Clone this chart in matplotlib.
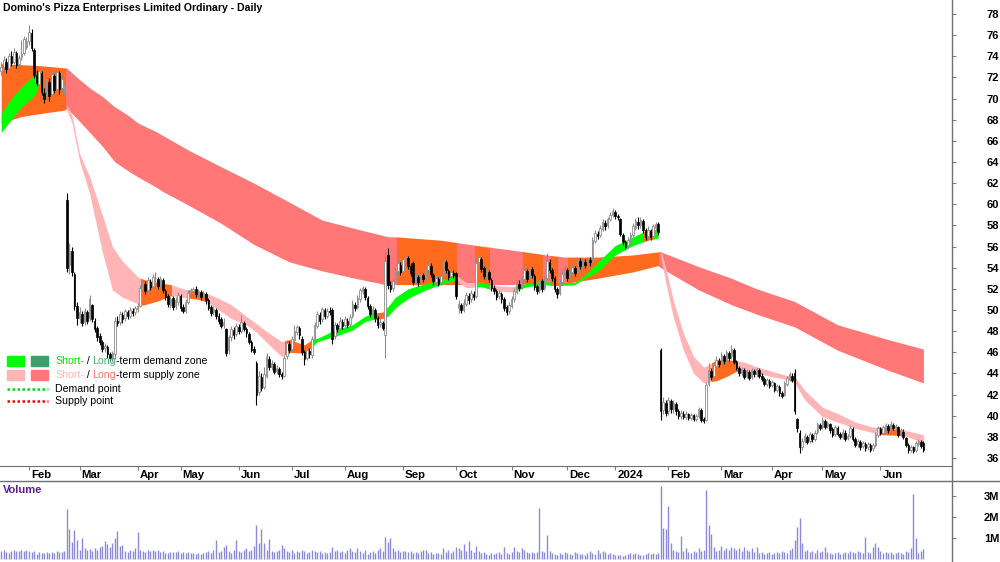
import numpy as np
import pandas as pd
import matplotlib
matplotlib.use("Agg")
import matplotlib.pyplot as plt
from matplotlib.patches import Rectangle
from matplotlib.lines import Line2D
from matplotlib.transforms import ScaledTranslation, IdentityTransform

# ---- trading calendar (ASX days) ----
holidays = ["2023-01-26", "2023-04-07", "2023-04-10", "2023-04-25", "2023-06-12",
            "2023-12-25", "2023-12-26", "2024-01-01", "2024-01-26", "2024-03-29",
            "2024-04-01", "2024-04-25", "2024-06-10"]
dates = pd.bdate_range("2023-01-16", "2024-07-05")
dates = dates[~dates.isin(pd.to_datetime(holidays))]

# ---- daily prices ----
opens = [72.6, 73.0, 73.5, 72.9, 74.0, 73.5, 74.3, 73.3, 73.9, 74.3,
         74.9, 75.4, 76.2, 74.6, 72.2, 71.4, 72.4, 70.5, 70.1, 71.6,
         70.4, 72.1, 70.9, 72.4, 71.0, 70.6, 60.4, 54.3, 55.6, 53.4,
         50.4, 49.2, 49.6, 48.9, 49.8, 49.2, 50.5, 49.0, 48.3, 47.5,
         47.0, 46.4, 46.5, 45.8, 45.5, 45.8, 49.0, 48.9, 49.5, 49.2,
         49.8, 49.4, 49.9, 49.8, 50.1, 50.4, 52.0, 52.5, 51.9, 52.6,
         52.3, 53.0, 52.9, 52.4, 52.8, 51.8, 51.3, 50.5, 51.1, 50.4,
         50.8, 51.3, 50.3, 49.9, 50.8, 51.6, 51.8, 52.0, 51.5, 51.7,
         51.3, 51.5, 50.9, 50.3, 49.8, 50.0, 49.4, 49.1, 48.6, 48.2,
         46.2, 47.4, 48.1, 47.7, 48.4, 48.0, 48.8, 48.2, 47.7, 47.0,
         46.3, 45.0, 42.2, 43.7, 42.7, 43.8, 45.4, 44.6, 44.9, 44.2,
         44.4, 43.9, 43.8, 45.6, 46.8, 46.3, 47.2, 47.9, 48.3, 47.3,
         46.0, 45.5, 46.1, 45.7, 47.3, 48.5, 49.5, 49.1, 50.0, 49.4,
         49.9, 50.0, 47.5, 48.6, 48.3, 48.9, 48.6, 49.0, 48.7, 49.4,
         50.5, 50.3, 51.0, 51.8, 52.0, 51.1, 50.4, 49.7, 50.0, 49.2,
         48.7, 48.8, 47.6, 55.2, 52.4, 52.1, 52.8, 53.7, 54.3, 53.7,
         54.7, 54.9, 54.2, 54.4, 52.7, 53.1, 52.7, 53.3, 53.0, 53.8,
         54.2, 53.3, 52.6, 52.9, 52.6, 53.3, 54.5, 53.7, 53.2, 53.5,
         53.5, 50.2, 50.5, 50.0, 50.6, 51.3, 51.0, 51.5, 51.3, 54.5,
         54.8, 54.0, 53.3, 53.6, 52.8, 52.1, 51.8, 51.3, 51.5, 51.0,
         50.3, 49.9, 50.4, 51.0, 51.7, 52.5, 52.2, 52.9, 53.7, 53.0,
         53.9, 53.2, 52.3, 51.9, 52.7, 52.1, 53.0, 54.5, 53.8, 53.0,
         52.0, 51.6, 52.6, 53.3, 53.8, 53.1, 53.6, 54.0, 53.6, 54.6,
         54.2, 54.5, 54.4, 54.7, 54.8, 56.5, 57.2, 57.1, 57.7, 58.2,
         58.0, 58.6, 59.0, 59.3, 58.9, 58.6, 57.1, 56.4, 56.1, 56.5,
         57.1, 57.8, 58.3, 58.0, 58.4, 57.6, 57.0, 57.5, 57.0, 57.8,
         58.1, 46.2, 40.5, 41.2, 40.4, 41.4, 40.6, 41.1, 40.4, 40.0,
         40.2, 39.9, 40.2, 39.8, 40.1, 39.7, 40.0, 40.5, 39.7, 39.6,
         43.0, 44.2, 43.8, 44.7, 45.2, 45.0, 45.6, 45.3, 45.9, 45.6,
         46.2, 45.1, 44.5, 44.0, 44.3, 43.8, 44.1, 43.7, 44.2, 43.9,
         44.3, 43.8, 43.5, 43.0, 43.3, 42.9, 43.1, 42.4, 42.7, 42.1,
         42.0, 43.0, 43.5, 43.8, 44.0, 39.7, 38.4, 37.0, 37.6, 38.0,
         37.6, 38.2, 37.8, 38.5, 39.1, 38.9, 39.5, 39.0, 39.2, 38.7,
         38.3, 38.8, 38.3, 38.0, 38.4, 37.9, 38.1, 38.7, 37.8, 37.3,
         37.5, 37.1, 37.3, 37.0, 37.2, 36.9, 37.2, 38.2, 38.7, 38.4,
         38.8, 39.0, 38.7, 39.1, 38.8, 38.9, 38.3, 38.5, 37.9, 37.2,
         36.8, 37.0, 36.8, 37.3, 37.5, 37.4]
highs = [73.5, 74.0, 73.8, 74.3, 74.5, 74.8, 74.5, 74.1, 75.5, 75.9,
         75.8, 77.0, 76.6, 74.8, 72.7, 72.9, 72.6, 71.0, 72.1, 71.9,
         72.6, 72.3, 72.9, 72.6, 72.1, 71.5, 61.1, 56.3, 56.0, 53.6,
         50.8, 50.3, 49.9, 50.2, 50.0, 51.4, 50.6, 49.2, 48.5, 47.8,
         47.2, 46.9, 46.7, 46.0, 46.1, 49.3, 49.4, 49.9, 49.8, 50.1,
         50.0, 50.3, 50.2, 50.4, 50.7, 52.4, 52.9, 52.7, 53.1, 52.9,
         53.4, 53.6, 53.1, 53.2, 53.0, 52.0, 51.5, 51.3, 51.3, 51.2,
         51.7, 51.5, 50.6, 51.0, 51.9, 52.1, 52.2, 52.3, 52.0, 51.9,
         51.8, 51.7, 51.1, 50.5, 50.4, 50.2, 49.7, 49.3, 49.2, 48.3,
         47.6, 48.5, 48.4, 48.8, 48.7, 49.5, 49.0, 48.4, 47.9, 47.2,
         46.6, 45.2, 44.2, 44.0, 44.6, 45.9, 45.6, 45.3, 45.1, 44.8,
         44.6, 44.1, 45.7, 47.2, 47.1, 47.5, 48.6, 48.6, 48.5, 47.5,
         46.2, 46.5, 46.4, 47.5, 48.9, 49.9, 49.8, 50.3, 50.2, 50.2,
         50.3, 50.2, 48.9, 48.8, 49.3, 49.1, 49.4, 49.2, 49.6, 50.9,
         50.8, 51.4, 52.1, 52.3, 52.2, 51.3, 50.6, 50.4, 50.2, 49.4,
         49.2, 49.0, 55.5, 55.9, 52.7, 52.9, 54.0, 54.7, 54.5, 55.0,
         55.4, 55.1, 54.4, 54.6, 53.5, 53.3, 53.7, 53.5, 54.1, 54.6,
         54.4, 53.5, 53.3, 53.1, 53.5, 55.0, 54.7, 53.9, 53.9, 53.8,
         53.6, 50.9, 50.7, 51.0, 51.7, 51.6, 51.9, 51.8, 54.8, 55.4,
         55.0, 54.2, 54.1, 53.8, 53.0, 52.4, 52.0, 51.9, 51.7, 51.2,
         50.5, 50.8, 51.3, 52.1, 52.9, 52.8, 53.2, 54.2, 53.9, 54.3,
         54.1, 53.4, 52.5, 53.0, 52.9, 53.3, 55.4, 54.8, 54.0, 53.2,
         52.2, 52.9, 53.7, 54.2, 54.0, 54.0, 54.4, 54.2, 55.0, 54.9,
         54.9, 54.8, 55.0, 55.0, 56.9, 57.6, 57.5, 58.0, 58.6, 58.5,
         58.8, 59.3, 59.6, 59.5, 59.1, 58.7, 57.3, 56.6, 56.9, 57.4,
         58.2, 58.7, 58.8, 58.8, 58.6, 57.8, 57.9, 57.7, 58.1, 58.3,
         58.3, 46.4, 41.8, 41.5, 41.8, 41.6, 41.5, 41.3, 40.6, 40.5,
         40.4, 40.4, 40.3, 40.3, 40.2, 40.2, 40.8, 40.7, 39.9, 43.2,
         45.0, 44.5, 45.0, 45.6, 45.5, 46.0, 45.8, 46.2, 46.1, 46.7,
         46.4, 45.3, 44.7, 44.6, 44.5, 44.4, 44.3, 44.5, 44.4, 44.6,
         44.5, 44.0, 43.7, 43.6, 43.5, 43.4, 43.2, 43.0, 42.9, 42.3,
         43.3, 43.8, 44.1, 44.0, 44.4, 39.8, 38.6, 37.9, 38.4, 38.2,
         38.5, 38.4, 38.6, 39.4, 39.3, 39.9, 39.7, 39.5, 39.3, 38.9,
         39.1, 39.0, 38.5, 38.7, 38.6, 38.3, 39.1, 38.9, 38.0, 37.8,
         37.7, 37.6, 37.5, 37.5, 37.4, 37.4, 38.5, 39.0, 38.9, 39.1,
         39.3, 39.2, 39.5, 39.3, 39.2, 39.0, 38.8, 38.7, 38.0, 37.4,
         37.2, 37.1, 37.6, 37.8, 37.7, 37.6]
lows = [72.2, 72.8, 72.4, 72.7, 73.1, 73.3, 72.9, 73.0, 73.6, 74.1,
        74.7, 75.1, 74.5, 71.9, 71.2, 71.2, 70.3, 69.6, 69.9, 69.8,
        70.2, 70.5, 70.7, 70.4, 70.6, 70.3, 53.6, 53.4, 53.2, 50.0,
        48.6, 48.8, 48.5, 48.6, 48.7, 49.0, 48.9, 47.9, 47.1, 46.7,
        46.0, 46.0, 45.5, 45.2, 45.1, 45.4, 48.5, 48.6, 48.8, 49.0,
        49.1, 49.2, 49.4, 49.5, 49.8, 50.3, 51.7, 51.5, 51.7, 51.9,
        52.0, 52.6, 52.0, 52.1, 51.6, 50.9, 50.3, 50.2, 50.0, 50.1,
        50.5, 49.9, 49.7, 49.7, 50.6, 51.3, 51.5, 51.2, 51.2, 50.9,
        51.0, 50.6, 50.0, 49.4, 49.5, 49.1, 48.7, 48.3, 48.3, 45.6,
        45.8, 47.1, 47.3, 47.5, 47.7, 47.8, 48.0, 47.4, 46.8, 46.0,
        45.8, 41.0, 42.0, 42.3, 42.5, 43.6, 44.3, 44.3, 43.9, 43.9,
        43.7, 43.5, 43.7, 45.4, 45.9, 46.1, 47.0, 47.6, 47.3, 45.7,
        44.8, 45.3, 45.5, 45.5, 47.1, 48.3, 48.7, 48.9, 49.1, 49.2,
        49.5, 46.8, 47.3, 47.9, 48.1, 48.2, 48.4, 48.3, 48.5, 49.2,
        49.9, 50.1, 50.8, 51.5, 50.9, 50.1, 49.3, 49.4, 48.9, 48.3,
        48.4, 48.1, 45.5, 52.0, 51.7, 51.8, 52.6, 53.4, 53.3, 53.5,
        54.4, 53.9, 53.2, 52.4, 52.5, 52.3, 52.5, 52.6, 52.8, 53.6,
        53.1, 52.4, 52.4, 52.3, 52.4, 53.1, 53.5, 52.8, 52.9, 53.0,
        51.0, 49.7, 49.7, 49.8, 50.4, 50.6, 50.8, 50.9, 51.1, 54.2,
        53.6, 52.9, 53.0, 52.6, 51.8, 51.5, 50.9, 51.0, 50.7, 49.9,
        49.5, 49.6, 50.2, 50.8, 51.5, 51.8, 52.0, 52.7, 52.6, 52.8,
        53.0, 51.9, 51.5, 51.6, 51.7, 51.9, 52.8, 53.5, 52.7, 51.7,
        51.1, 51.4, 52.4, 53.1, 52.7, 52.9, 53.4, 53.2, 53.4, 53.9,
        54.0, 54.0, 54.1, 54.2, 54.6, 56.3, 56.7, 56.9, 57.5, 57.6,
        57.8, 58.4, 58.8, 58.6, 58.5, 57.0, 56.1, 55.8, 55.9, 56.3,
        56.9, 57.6, 57.7, 57.8, 57.3, 56.6, 56.8, 56.6, 56.8, 57.5,
        57.1, 39.6, 40.2, 40.0, 40.1, 40.3, 40.3, 40.1, 39.7, 39.7,
        39.7, 39.7, 39.6, 39.6, 39.5, 39.5, 39.8, 39.4, 39.3, 39.5,
        42.8, 43.4, 43.6, 44.5, 44.6, 44.8, 44.9, 45.1, 45.2, 45.4,
        44.9, 44.3, 43.8, 43.8, 43.5, 43.6, 43.4, 43.5, 43.7, 43.7,
        43.6, 43.3, 42.8, 42.8, 42.6, 42.7, 42.2, 42.2, 41.9, 41.7,
        41.9, 42.8, 43.3, 43.2, 40.2, 38.5, 36.5, 36.8, 37.4, 37.3,
        37.4, 37.5, 37.6, 38.3, 38.6, 38.7, 38.7, 38.8, 38.4, 38.0,
        38.1, 38.1, 37.8, 37.8, 37.6, 37.7, 37.9, 37.6, 37.0, 37.0,
        36.8, 36.9, 36.7, 36.8, 36.6, 36.7, 37.0, 38.0, 38.2, 38.2,
        38.6, 38.4, 38.5, 38.6, 38.6, 38.0, 38.1, 37.8, 37.0, 36.5,
        36.6, 36.5, 36.6, 37.1, 36.9, 36.6]
closes = [73.0, 73.6, 72.8, 74.0, 73.4, 74.4, 73.2, 73.8, 74.2, 75.6,
          75.4, 76.3, 74.8, 72.2, 71.5, 72.6, 70.6, 70.0, 71.8, 70.2,
          72.3, 70.8, 72.5, 70.9, 71.8, 71.2, 54.0, 55.6, 53.6, 50.4,
          49.2, 49.8, 48.8, 49.9, 49.0, 51.0, 49.1, 48.2, 47.4, 47.0,
          46.3, 46.6, 45.8, 45.5, 45.9, 49.0, 48.8, 49.6, 49.1, 49.9,
          49.4, 50.0, 49.7, 50.2, 50.4, 52.1, 52.6, 51.8, 52.8, 52.2,
          53.1, 53.0, 52.3, 52.9, 51.9, 51.2, 50.6, 51.0, 50.3, 50.9,
          51.4, 50.2, 49.9, 50.8, 51.6, 51.9, 52.0, 51.5, 51.8, 51.2,
          51.6, 50.9, 50.2, 49.7, 50.1, 49.4, 49.0, 48.5, 48.9, 45.9,
          47.4, 48.2, 47.6, 48.5, 48.0, 48.9, 48.2, 47.8, 47.0, 46.2,
          46.0, 42.0, 43.8, 42.6, 43.9, 45.6, 44.6, 45.0, 44.1, 44.5,
          43.9, 43.8, 45.5, 46.9, 46.2, 47.3, 48.0, 48.4, 47.6, 46.0,
          45.4, 46.2, 45.8, 47.3, 48.6, 49.6, 49.0, 50.1, 49.4, 49.9,
          49.8, 47.3, 48.6, 48.2, 49.0, 48.5, 49.1, 48.6, 49.3, 50.6,
          50.2, 51.1, 51.9, 52.1, 51.2, 50.4, 49.6, 50.1, 49.2, 48.6,
          48.9, 48.3, 54.6, 52.4, 52.0, 52.7, 53.8, 54.4, 53.6, 54.8,
          55.0, 54.2, 53.5, 52.6, 53.2, 52.6, 53.4, 52.9, 53.9, 54.3,
          53.4, 52.7, 53.0, 52.5, 53.2, 54.6, 53.8, 53.1, 53.6, 53.3,
          51.3, 50.6, 50.0, 50.7, 51.4, 50.9, 51.6, 51.2, 54.4, 55.0,
          53.9, 53.2, 53.8, 52.9, 52.1, 51.8, 51.2, 51.6, 51.0, 50.2,
          49.8, 50.5, 51.0, 51.8, 52.6, 52.1, 53.0, 53.8, 52.9, 54.0,
          53.3, 52.2, 51.8, 52.8, 52.0, 53.0, 54.6, 53.8, 53.0, 52.0,
          51.5, 52.6, 53.4, 53.9, 53.0, 53.7, 54.1, 53.5, 54.7, 54.2,
          54.6, 54.3, 54.8, 54.5, 56.6, 57.3, 57.0, 57.8, 58.3, 57.9,
          58.6, 59.0, 59.4, 58.9, 58.8, 57.2, 56.4, 56.0, 56.6, 57.1,
          57.9, 58.4, 58.0, 58.5, 57.6, 56.9, 57.6, 56.9, 57.9, 58.1,
          57.4, 40.4, 41.3, 40.3, 41.5, 40.6, 41.2, 40.4, 40.0, 40.3,
          39.9, 40.2, 39.8, 40.1, 39.7, 40.0, 40.6, 39.6, 39.5, 42.9,
          44.3, 43.7, 44.8, 45.3, 44.9, 45.7, 45.2, 46.0, 45.5, 46.3,
          45.1, 44.5, 44.0, 44.4, 43.7, 44.2, 43.6, 44.3, 43.9, 44.4,
          43.8, 43.5, 43.0, 43.4, 42.8, 43.2, 42.4, 42.8, 42.1, 41.9,
          43.1, 43.6, 43.9, 43.4, 40.4, 38.8, 37.0, 37.6, 38.1, 37.5,
          38.3, 37.8, 38.4, 39.2, 38.8, 39.6, 38.9, 39.3, 38.6, 38.2,
          38.9, 38.3, 38.0, 38.5, 37.8, 38.1, 38.8, 37.8, 37.2, 37.6,
          37.0, 37.4, 36.9, 37.3, 36.8, 37.2, 38.3, 38.8, 38.4, 38.9,
          39.1, 38.6, 39.2, 38.8, 39.0, 38.2, 38.6, 38.0, 37.2, 36.8,
          37.0, 36.7, 37.4, 37.6, 37.1, 36.8]

# daily volume, millions
volume = [0.38, 0.42, 0.35, 0.30, 0.40, 0.42, 0.38, 0.40, 0.41, 0.39,
          0.42, 0.40, 0.33, 0.38, 0.25, 0.35, 0.30, 0.28, 0.35, 0.30,
          0.33, 0.30, 0.38, 0.32, 0.34, 0.40, 2.38, 1.43, 0.82, 1.40,
          0.90, 0.45, 1.00, 0.50, 0.45, 0.48, 0.40, 0.50, 0.42, 0.55,
          0.60, 0.86, 0.70, 0.55, 0.75, 0.98, 1.33, 0.60, 0.65, 0.40,
          0.35, 0.45, 0.40, 0.50, 1.30, 0.45, 0.40, 0.35, 0.45, 0.40,
          0.42, 0.38, 0.45, 0.35, 0.40, 0.30, 0.28, 0.32, 0.35, 0.33,
          0.38, 0.30, 0.35, 0.30, 0.32, 0.28, 0.30, 0.25, 0.27, 0.25,
          0.28, 0.32, 0.38, 0.30, 0.45, 0.90, 0.35, 0.40, 0.55, 0.65,
          0.40, 0.30, 0.45, 0.90, 0.40, 0.32, 0.45, 0.50, 0.40, 0.45,
          0.60, 1.60, 0.75, 1.45, 0.74, 0.45, 0.95, 0.40, 0.35, 0.40,
          0.45, 0.65, 0.50, 0.40, 0.35, 0.45, 0.30, 0.40, 0.35, 0.45,
          0.40, 0.30, 0.35, 0.45, 0.40, 0.35, 0.38, 0.30, 0.35, 0.28,
          0.32, 0.55, 0.40, 0.45, 0.35, 0.40, 0.30, 0.45, 0.50, 0.40,
          0.35, 0.50, 0.40, 0.30, 0.45, 0.25, 0.35, 0.40, 0.30, 0.45,
          0.50, 0.40, 1.05, 0.80, 1.00, 0.50, 0.40, 0.45, 0.35, 0.40,
          0.38, 0.35, 0.40, 0.30, 0.35, 0.28, 0.40, 0.45, 0.45, 0.30,
          0.35, 0.25, 0.28, 0.30, 0.25, 0.50, 0.35, 0.45, 0.30, 0.40,
          0.55, 0.50, 0.45, 0.73, 0.40, 0.86, 0.45, 0.35, 0.60, 0.40,
          0.30, 0.35, 0.25, 0.20, 0.30, 0.25, 0.30, 0.35, 0.25, 0.55,
          0.30, 0.25, 0.35, 0.55, 0.40, 0.35, 0.50, 0.45, 0.35, 0.30,
          0.35, 0.30, 0.35, 2.45, 0.40, 0.35, 1.14, 0.40, 0.30, 0.25,
          0.20, 0.30, 0.25, 0.35, 0.30, 0.25, 0.20, 0.35, 0.30, 0.22,
          0.25, 0.20, 0.30, 0.40, 0.30, 0.25, 0.45, 0.30, 0.40, 0.35,
          0.25, 0.30, 0.25, 0.20, 0.18, 0.20, 0.15, 0.20, 0.25, 0.28,
          0.25, 0.30, 0.22, 0.20, 0.18, 0.25, 0.28, 0.22, 0.30, 0.25,
          0.28, 3.48, 1.47, 1.43, 2.54, 0.78, 0.45, 0.40, 0.35, 1.08,
          0.40, 0.50, 0.35, 0.30, 0.40, 0.35, 0.50, 0.40, 0.45, 3.28,
          1.60, 1.20, 0.55, 0.40, 0.45, 0.60, 0.45, 0.50, 0.45, 0.55,
          0.50, 0.45, 0.50, 0.40, 0.55, 0.45, 0.40, 0.50, 0.35, 0.55,
          0.30, 0.35, 0.25, 0.30, 0.35, 0.25, 0.30, 0.35, 0.30, 0.40,
          0.35, 0.30, 0.45, 0.50, 0.90, 1.52, 1.97, 0.78, 0.40, 0.45,
          0.35, 0.40, 0.30, 0.45, 0.35, 0.40, 0.55, 0.35, 0.30, 0.25,
          0.30, 0.35, 0.25, 0.30, 0.35, 0.30, 0.40, 0.35, 0.30, 0.40,
          0.35, 0.30, 1.05, 0.35, 0.30, 0.55, 0.78, 0.55, 0.40, 0.30,
          0.35, 0.30, 0.35, 0.25, 0.30, 0.35, 0.30, 0.25, 0.40, 0.35,
          0.50, 3.10, 1.00, 0.30, 0.40, 0.48]

# ---- zones: key points (trading-day number, upper, lower) ----
lt_day = [0, 8, 16, 25, 26, 30, 35, 40, 45, 50, 54, 61, 64, 74, 87, 100, 114, 127, 140,
          153, 157, 174, 188, 201, 216, 223, 236, 250, 260, 261, 276, 289, 299, 314, 331,
          351, 365]
lt_up = [73.3, 73.2, 73.1, 72.9, 72.86, 72.0, 71.0, 70.2, 69.2, 68.45, 67.7, 66.9, 66.5,
         65.13, 63.55, 62.0, 60.2, 58.5, 57.7, 56.93, 56.9, 56.6, 56.1, 55.7, 55.2, 55.0,
         55.0, 55.2, 55.5, 55.5, 54.1, 53.0, 52.0, 50.8, 48.6, 47.2, 46.3]
lt_lo = [67.7, 68.3, 68.6, 68.9, 69.08, 68.1, 66.8, 65.5, 64.0, 63.2, 62.6, 61.66, 61.2,
         59.93, 58.2, 56.2, 54.55, 53.7, 53.0, 52.36, 52.4, 52.4, 52.4, 52.4, 52.5, 52.5,
         53.0, 53.6, 54.2, 54.0, 51.9, 50.5, 49.6, 48.4, 46.2, 44.3, 43.1]
lt_start = [0, 26, 157, 181, 188, 194, 207, 215, 218, 221, 225, 261]
lt_state = ["mixed", "supply", "mixed", "supply", "mixed", "supply", "mixed", "supply",
            "mixed", "supply", "mixed", "supply"]

st1_day = [0, 4, 8, 12, 14, 15]
st1_up = [68.6, 70.0, 71.1, 72.0, 72.4, 72.3]
st1_lo = [66.8, 68.0, 69.2, 70.0, 70.6, 71.6]

st2_day = [26, 28, 31, 35, 40, 44, 48, 54, 56, 62, 67, 72, 78, 82, 86, 91, 97, 101, 106,
           111, 114, 120, 123, 125, 132, 139, 144, 147, 151, 153, 156, 161, 168, 174, 180,
           184, 190, 196, 202, 208, 214, 220, 227, 231, 236, 243, 250, 256, 260]
st2_up = [69.4, 68.4, 64.8, 62.6, 59.0, 56.0, 54.6, 53.15, 52.9, 52.6, 52.4, 52.0, 51.75,
          51.5, 51.1, 50.5, 49.4, 48.7, 47.8, 47.0, 47.2, 46.7, 47.2, 47.3, 48.1, 48.6,
          49.4, 49.7, 49.8, 50.3, 51.2, 52.0, 52.5, 52.8, 53.3, 52.6, 52.6, 52.3, 52.2,
          52.5, 52.7, 52.6, 52.6, 53.3, 54.5, 56.1, 56.9, 57.6, 57.6]
st2_lo = [68.9, 67.7, 64.1, 61.0, 55.5, 51.9, 51.2, 50.6, 50.45, 50.85, 51.35, 51.2, 51.0,
          50.7, 50.0, 49.2, 48.6, 47.9, 46.7, 45.6, 46.0, 45.9, 46.5, 47.0, 47.5, 48.1,
          48.9, 49.1, 49.2, 49.4, 50.2, 51.1, 51.9, 52.4, 52.8, 52.1, 52.2, 51.8, 51.7,
          52.2, 52.4, 52.3, 52.4, 53.0, 53.6, 55.2, 56.1, 56.6, 56.8]

st3_day = [261, 263, 266, 270, 274, 278, 280, 283, 287, 291, 295, 299, 311, 314, 318,
           325, 331, 338, 345, 349, 358, 365]
st3_up = [55.7, 54.0, 50.9, 47.8, 45.6, 44.6, 44.8, 45.3, 45.3, 45.2, 45.0, 44.6, 43.8,
          43.7, 42.4, 40.8, 40.2, 39.4, 38.9, 38.9, 38.6, 38.2]
st3_lo = [55.0, 52.6, 49.3, 46.2, 44.0, 43.1, 43.2, 43.3, 43.7, 44.2, 44.1, 44.0, 43.4,
          43.1, 41.5, 39.9, 39.4, 38.8, 38.4, 38.2, 38.1, 37.4]

st_start = [0, 26, 56, 68, 75, 82, 113, 123, 149, 153, 181, 188, 194, 205, 218, 222,
            255, 259, 261, 282, 292, 347, 358]
st_state = ["demand", "supply", "mixed", "supply", "mixed", "supply", "mixed", "demand",
            "mixed", "demand", "supply", "demand", "supply", "demand", "mixed", "demand",
            "mixed", "demand", "supply", "mixed", "supply", "mixed", "supply"]

ORANGE = "#FF6A1E"
LT_COL = {"mixed": ORANGE, "supply": "#FF7777", "demand": "#3CA06A"}
ST_COL = {"mixed": ORANGE, "supply": "#FFB5B5", "demand": "#00FF00"}

o = np.array(opens); h = np.array(highs); l = np.array(lows); c = np.array(closes)
n = len(c)
x = np.arange(n)
dates = dates[:n]

fig = plt.figure(figsize=(10, 5.62), dpi=100)
ax = fig.add_axes([0, 96 / 562, 0.952, 466 / 562])
axv = fig.add_axes([0, 0, 0.952, 81 / 562])

SANS = ["Liberation Sans", "DejaVu Sans"]


def draw_band(days, up, lo, starts, states, cmap, z):
    bounds = list(starts) + [n]
    for i, st in enumerate(states):
        a, b = bounds[i] - 0.5, bounds[i + 1] - 0.5
        poly = ax.fill_between(days, lo, up, color=cmap[st], lw=0, zorder=z)
        poly.set_clip_path(Rectangle((a, 0), b - a, 200, transform=ax.transData))


draw_band(lt_day, lt_up, lt_lo, lt_start, lt_state, LT_COL, 1)
for d, u, lw_ in [(st1_day, st1_up, st1_lo), (st2_day, st2_up, st2_lo), (st3_day, st3_up, st3_lo)]:
    draw_band(d, u, lw_, st_start, st_state, ST_COL, 2)

# candles
up = c >= o
ax.vlines(x[up], l[up], h[up], color="#8C8C8C", lw=0.8, zorder=3)
ax.vlines(x[~up], l[~up], h[~up], color="black", lw=0.8, zorder=3)
ax.bar(x[up], (c - o)[up], bottom=o[up], width=0.62, color="white",
       edgecolor="#8C8C8C", lw=0.6, zorder=4)
ax.bar(x[~up], (o - c)[~up], bottom=c[~up], width=0.62, color="black",
       edgecolor="black", lw=0.5, zorder=4)

ax.set_xlim(-0.48, 376.3)
ax.set_ylim(35.24, 79.32)
axv.set_xlim(-0.48, 376.3)
axv.set_ylim(-0.143, 3.714)

# month ticks
tick_pos, tick_lbl = [], []
for i in range(1, n):
    if dates[i].month != dates[i - 1].month:
        tick_pos.append(i)
        tick_lbl.append("2024" if dates[i].month == 1 else dates[i].strftime("%b"))
ax.set_xticks(tick_pos)
ax.set_xticklabels(tick_lbl, fontsize=8.2, fontweight="bold", family=SANS)
ax.tick_params(axis="x", direction="out", length=3, color="#808080", pad=0)
off = ScaledTranslation(2 / 100, 0, fig.dpi_scale_trans)
for t in ax.get_xticklabels():
    t.set_ha("left")
    t.set_transform(t.get_transform() + off)

ax.yaxis.tick_right()
ax.set_yticks(np.arange(36, 79, 2))
ax.set_yticklabels([str(v) for v in range(36, 79, 2)], fontsize=8, fontweight="bold",
                   family=SANS)
axv.vlines(x, 0, volume, color="#8A8AD8", lw=1.0)
axv.yaxis.tick_right()
axv.set_yticks([1, 2, 3])
axv.set_yticklabels(["1M", "2M", "3M"], fontsize=8, fontweight="bold", family=SANS)
axv.set_xticks([])
for a in (ax, axv):
    a.tick_params(axis="y", direction="out", length=3, color="#808080", pad=31)
    for t in a.get_yticklabels():
        t.set_ha("right")
    for s in ("left", "top", "right"):
        a.spines[s].set_visible(False)
ax.spines["bottom"].set_color("#707070")
axv.spines["bottom"].set_visible(False)

fig.add_artist(Line2D([0.952, 0.952], [0, 1], color="#707070", lw=1.0))
fig.add_artist(Line2D([0, 1], [1 - 480.5 / 562, 1 - 480.5 / 562], color="#707070", lw=1.0))

fig.text(0.003, 1 - 8 / 562, "Domino's Pizza Enterprises Limited Ordinary - Daily",
         fontsize=7.6, fontweight="bold", va="center", family=SANS)
fig.text(0.003, 1 - 490 / 562, "Volume", fontsize=8, fontweight="bold", va="center",
         color="#5A1E96", family=SANS)

# legend
def px(xp, yp):
    return xp / 1000, 1 - yp / 562

for (xx, yy, col) in [(7, 356, "#00FF00"), (31, 356, "#3CA06A"),
                      (7, 370, "#FFB5B5"), (31, 370, "#FF7777")]:
    fig.add_artist(Rectangle(px(xx, yy + 10), 17 / 1000, 10 / 562, color=col,
                             transform=fig.transFigure))
fig.add_artist(Line2D([7 / 1000, 48 / 1000], [1 - 389 / 562] * 2, color="#00DD00",
                      lw=1.8, ls=(0, (1, 1))))
fig.add_artist(Line2D([7 / 1000, 48 / 1000], [1 - 401 / 562] * 2, color="#FF0000",
                      lw=1.8, ls=(0, (1, 1))))

renderer = fig.canvas.get_renderer()


def rich(yp, pieces):
    xp = 55
    for s, col in pieces:
        t = fig.text(xp, 562 - yp, s, color=col, fontsize=7.6, va="center",
                     family=SANS, transform=IdentityTransform())
        xp += t.get_window_extent(renderer).width


rich(361, [("Short-", "#00E000"), (" / ", "black"), ("Long", "#3CB371"),
           ("-term demand zone", "black")])
rich(375, [("Short-", "#FFB5B5"), (" / ", "black"), ("Long", "#FF6F6F"),
           ("-term supply zone", "black")])
rich(389, [("Demand point", "black")])
rich(401, [("Supply point", "black")])

fig.savefig("out.png", dpi=100)
